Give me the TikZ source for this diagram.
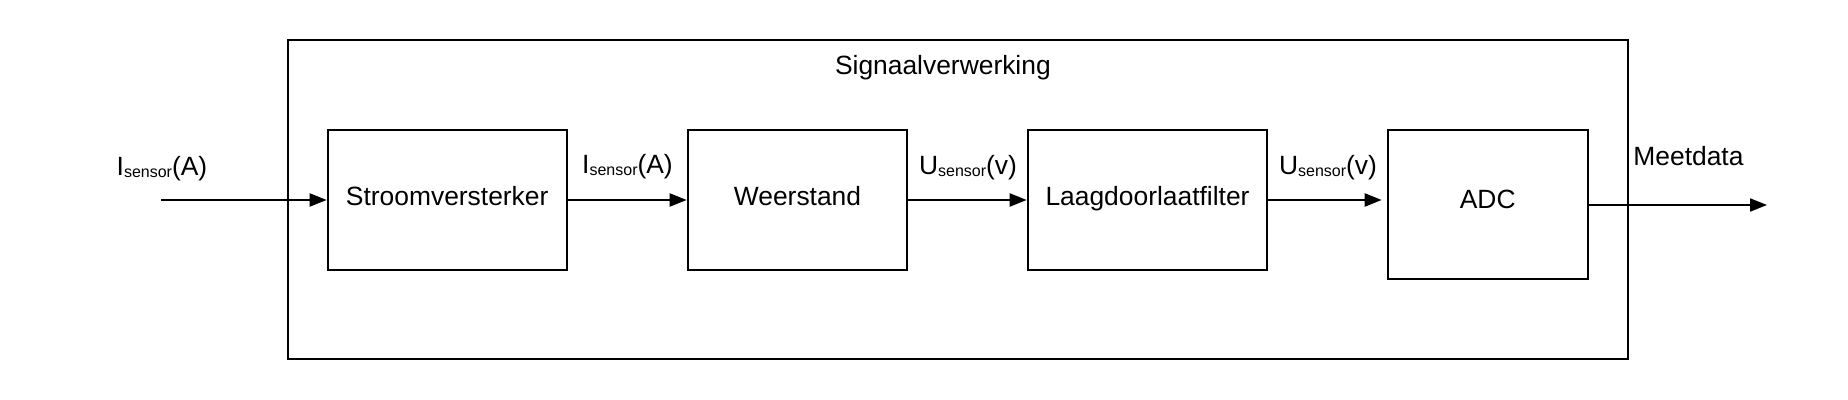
\documentclass[tikz,border=0pt]{standalone}
\usepackage{fontspec}
\setmainfont{Liberation Sans}
\usetikzlibrary{arrows.meta}
\newcommand{\sub}[1]{\raisebox{-0.6pt}{\fontsize{8}{10}\selectfont #1}}
\begin{document}
\begin{tikzpicture}[x=0.5pt,y=-0.5pt,
  blk/.style={draw, line width=1pt, inner sep=0pt, font=\fontsize{13.2}{15}\selectfont, text height=6pt, text depth=0pt},
  lbl/.style={font=\fontsize{13.2}{15}\selectfont, inner sep=0pt, anchor=base},
  conn/.style={line width=1pt, -{Triangle[length=8.5pt,width=6.5pt]}}]
\useasboundingbox (0,0) rectangle (1848,400);
\node[draw, line width=1pt, minimum width=670pt, minimum height=159.75pt, inner sep=0pt] (outer) at (957.7,199.75) {};
\node[lbl] (title) at (942.9,75) {Signaalverwerking};
\node[blk, minimum width=119.5pt, minimum height=70pt] (sv) at (447.2,200) {Stroomversterker};
\node[blk, minimum width=109.8pt, minimum height=70pt] (ws) at (797.5,200) {Weerstand};
\node[blk, minimum width=119.8pt, minimum height=70pt] (lpf) at (1147.5,200) {Laagdoorlaatfilter};
\node[blk, minimum width=100pt, minimum height=74.65pt, text height=3.4pt] (adc) at (1487.7,204.65) {ADC};
\coordinate (in) at (161,200);
\coordinate (adcin) at (1381.7,200);
\coordinate (out) at (1767,205);
\draw[conn] (in) -- (sv.west);
\draw[conn] (sv.east) -- (ws.west);
\draw[conn] (ws.east) -- (lpf.west);
\draw[conn] (lpf.east) -- (adcin);
\draw[conn] (adc.east |- out) -- (out);
\node[lbl] (l1) at (162,176) {I\sub{sensor}(A)};
\node[lbl] (l2) at (627.5,174) {I\sub{sensor}(A)};
\node[lbl] (l3) at (968,175) {U\sub{sensor}(v)};
\node[lbl] (l4) at (1328,175) {U\sub{sensor}(v)};
\node[lbl, anchor=base west] (md) at (1633,165.7) {Meetdata};
\end{tikzpicture}
\end{document}
